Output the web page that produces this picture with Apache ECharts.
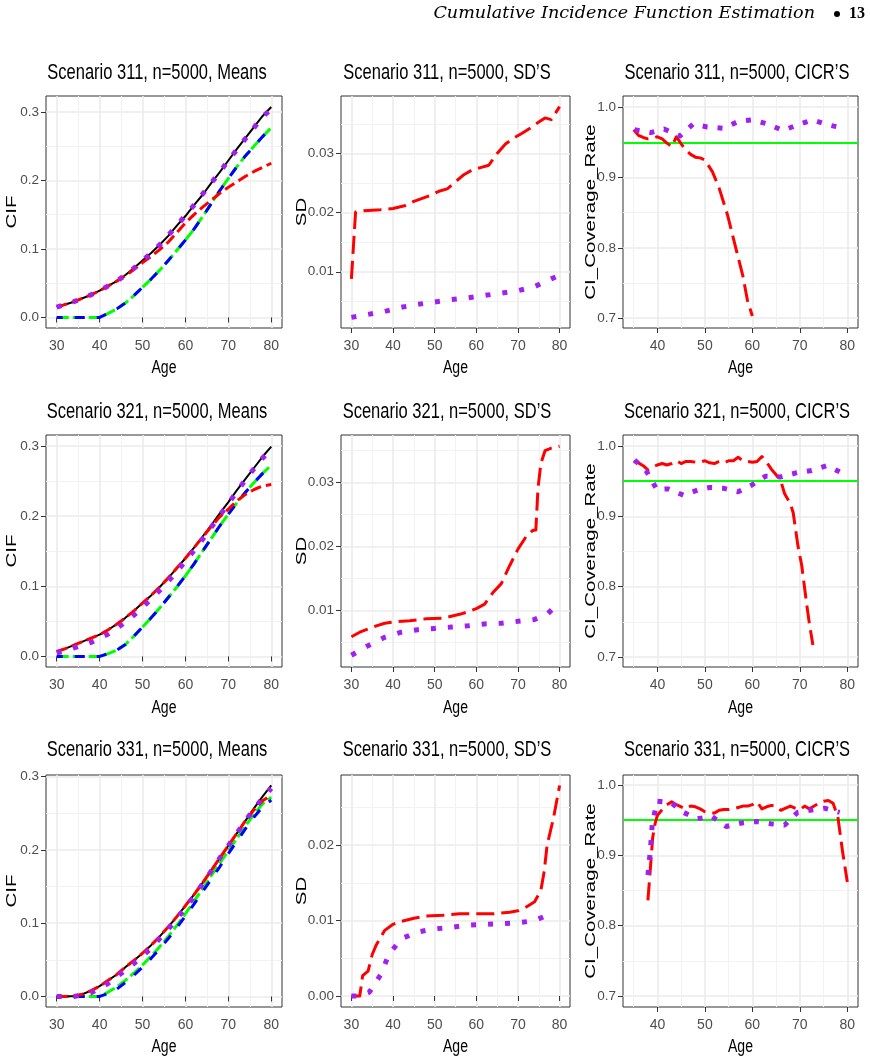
<!DOCTYPE html>
<html>
<head>
<meta charset="utf-8">
<script src="https://cdn.jsdelivr.net/npm/echarts@6/dist/echarts.min.js"></script>
<style>
  html, body { margin: 0; padding: 0; background: #fff; }
  #chart { width: 870px; height: 1064px; }
</style>
</head>
<body>
<div id="chart"></div>
<script>
// ---- data ----
const ageM = [30, 32, 34, 36, 38, 40, 42, 44, 46, 48, 50, 52, 54, 56, 58, 60, 62, 64, 66, 68, 70, 72, 74, 76, 78, 80]

const m311True = [0.015, 0.019, 0.023, 0.028, 0.033, 0.039, 0.046, 0.053, 0.062, 0.072, 0.083, 0.094, 0.106, 0.119, 0.134, 0.148, 0.164, 0.179, 0.196, 0.212, 0.229, 0.246, 0.262, 0.278, 0.294, 0.307]
const m311Purple = [0.015, 0.019, 0.023, 0.028, 0.033, 0.039, 0.046, 0.053, 0.062, 0.072, 0.083, 0.094, 0.106, 0.120, 0.134, 0.149, 0.164, 0.180, 0.196, 0.212, 0.229, 0.245, 0.261, 0.277, 0.293, 0.304]
const m311Red = [0.015, 0.019, 0.023, 0.028, 0.033, 0.039, 0.046, 0.053, 0.061, 0.070, 0.080, 0.089, 0.099, 0.110, 0.124, 0.138, 0.150, 0.161, 0.171, 0.181, 0.190, 0.198, 0.206, 0.213, 0.219, 0.225]
const m311Green = [0, 0, 0, 0, 0, 0, 0.006, 0.0125, 0.021, 0.032, 0.044, 0.056, 0.069, 0.083, 0.098, 0.113, 0.129, 0.147, 0.166, 0.185, 0.203, 0.220, 0.236, 0.250, 0.264, 0.277]
const m311Blue = [0, 0, 0, 0, 0, 0, 0.006, 0.0125, 0.021, 0.032, 0.044, 0.056, 0.069, 0.083, 0.098, 0.113, 0.129, 0.147, 0.166, 0.185, 0.203, 0.220, 0.236, 0.250, 0.264, 0.277]

const m321True = [0.007, 0.011, 0.016, 0.021, 0.026, 0.031, 0.038, 0.046, 0.055, 0.065, 0.076, 0.087, 0.099, 0.112, 0.126, 0.140, 0.155, 0.171, 0.187, 0.204, 0.220, 0.237, 0.253, 0.269, 0.285, 0.299]
const m321Purple = [0.005, 0.008, 0.012, 0.016, 0.020, 0.026, 0.032, 0.040, 0.049, 0.059, 0.070, 0.082, 0.094, 0.107, 0.121, 0.136, 0.151, 0.167, 0.184, 0.201, 0.218, 0.235, 0.252, 0.268, 0.283, 0.296]
const m321Red = [0.007, 0.011, 0.016, 0.021, 0.026, 0.031, 0.038, 0.046, 0.055, 0.065, 0.076, 0.087, 0.099, 0.112, 0.126, 0.140, 0.155, 0.170, 0.185, 0.199, 0.210, 0.222, 0.231, 0.238, 0.243, 0.245]
const m321Green = [0, 0, 0, 0, 0, 0, 0.004, 0.009, 0.017, 0.029, 0.042, 0.055, 0.069, 0.084, 0.099, 0.115, 0.132, 0.150, 0.168, 0.186, 0.203, 0.219, 0.234, 0.248, 0.261, 0.273]
const m321Blue = [0, 0, 0, 0, 0, 0, 0.004, 0.009, 0.017, 0.029, 0.042, 0.055, 0.069, 0.084, 0.099, 0.115, 0.132, 0.150, 0.168, 0.186, 0.203, 0.219, 0.234, 0.248, 0.261, 0.273]

const m331True = [0, 0, 0.0005, 0.003, 0.008, 0.014, 0.022, 0.030, 0.040, 0.049, 0.059, 0.070, 0.082, 0.095, 0.109, 0.124, 0.139, 0.155, 0.172, 0.189, 0.206, 0.223, 0.240, 0.257, 0.273, 0.288]
const m331Purple = [0, 0, 0, 0.002, 0.005, 0.011, 0.018, 0.027, 0.036, 0.045, 0.055, 0.066, 0.079, 0.092, 0.106, 0.121, 0.137, 0.154, 0.171, 0.189, 0.206, 0.223, 0.240, 0.256, 0.271, 0.284]
const m331Red = [0, 0, 0.0005, 0.003, 0.008, 0.014, 0.022, 0.030, 0.040, 0.049, 0.059, 0.070, 0.082, 0.095, 0.109, 0.124, 0.139, 0.155, 0.172, 0.189, 0.206, 0.223, 0.240, 0.255, 0.267, 0.275]
const m331Green = [0, 0, 0, 0, 0, 0, 0.006, 0.013, 0.022, 0.032, 0.043, 0.055, 0.068, 0.082, 0.097, 0.113, 0.130, 0.147, 0.165, 0.182, 0.199, 0.216, 0.233, 0.249, 0.263, 0.272]
const m331Blue = [0, 0, 0, 0, 0, 0, 0.004, 0.010, 0.019, 0.029, 0.040, 0.052, 0.065, 0.079, 0.094, 0.110, 0.126, 0.143, 0.160, 0.177, 0.195, 0.212, 0.229, 0.245, 0.259, 0.268]

const s311RedAge = [30, 31, 33, 35, 37, 40, 43, 45, 47, 49, 51, 53, 55, 57, 59, 61, 63, 65, 67, 69, 71, 73, 75, 76.5, 78, 80]
const s311Red = [0.0088, 0.0201, 0.0203, 0.0204, 0.0205, 0.0207, 0.0212, 0.0219, 0.0224, 0.0229, 0.0236, 0.0240, 0.0252, 0.0264, 0.0272, 0.0276, 0.0280, 0.0300, 0.0316, 0.0326, 0.0334, 0.0343, 0.0353, 0.0360, 0.0357, 0.0379]
const s311PurpleAge = [30, 34, 38, 42, 46, 50, 54, 58, 62, 66, 70, 74, 78, 80]
const s311Purple = [0.0023, 0.0028, 0.0033, 0.0040, 0.0045, 0.0049, 0.0053, 0.0056, 0.0060, 0.0064, 0.0068, 0.0075, 0.0088, 0.0094]

const s321RedAge = [30, 32, 34, 36, 38, 40, 44, 48, 52, 54, 56, 58, 60, 62, 64, 66, 68, 70, 72, 73.5, 74.3, 74.8, 75.5, 76.5, 78, 80]
const s321Red = [0.0059, 0.0066, 0.0071, 0.0076, 0.0080, 0.0082, 0.0084, 0.0087, 0.0088, 0.0091, 0.0094, 0.0098, 0.0103, 0.0110, 0.0128, 0.0142, 0.0170, 0.0196, 0.0216, 0.0225, 0.0226, 0.0290, 0.0330, 0.0350, 0.0354, 0.0357]
const s321PurpleAge = [30, 34, 38, 42, 46, 50, 54, 58, 62, 66, 70, 74, 77, 80]
const s321Purple = [0.0030, 0.0045, 0.0058, 0.0066, 0.0070, 0.0072, 0.0074, 0.0076, 0.0079, 0.0080, 0.0083, 0.0086, 0.0094, 0.0113]

const s331RedAge = [30, 32, 32.7, 34, 35, 36, 38, 40, 42, 45, 48, 52, 56, 60, 64, 68, 70, 72, 74, 75.5, 76.3, 77, 78.5, 80]
const s331Red = [0, 0, 0.0027, 0.0033, 0.0055, 0.0068, 0.0087, 0.0095, 0.0099, 0.0103, 0.0106, 0.0107, 0.0109, 0.0109, 0.0109, 0.0111, 0.0113, 0.0118, 0.0125, 0.0140, 0.0165, 0.0200, 0.0235, 0.0279]
const s331PurpleAge = [30, 32, 34.3, 37, 39, 42, 46, 50, 54, 58, 62, 66, 70, 74, 77, 78]
const s331Purple = [0, 0, 0.0005, 0.0028, 0.0055, 0.0076, 0.0085, 0.0089, 0.0091, 0.0094, 0.0095, 0.0096, 0.0097, 0.0100, 0.0107, 0.0109]

const c311RedAge = [35, 36, 37, 38, 39, 40, 41, 42, 43, 44, 45, 46, 47, 48, 49, 50, 51.6, 53, 54.8, 56.5, 58, 59, 60]
const c311Red = [0.968, 0.960, 0.957, 0.955, 0.956, 0.958, 0.955, 0.949, 0.944, 0.958, 0.948, 0.939, 0.933, 0.929, 0.928, 0.925, 0.908, 0.885, 0.846, 0.800, 0.760, 0.724, 0.703]
const c311PurpleAge = [35.2, 38.6, 41.4, 44.7, 47.5, 50.5, 53.8, 57.1, 60, 63.3, 66.4, 69.6, 72.75, 75.9, 78]
const c311Purple = [0.968, 0.964, 0.969, 0.959, 0.976, 0.972, 0.970, 0.980, 0.982, 0.976, 0.967, 0.975, 0.982, 0.975, 0.972]

const c321RedAge = [35, 36, 37, 38, 39, 40, 41, 42, 43, 44, 45, 46, 47, 48, 49, 50, 51, 52, 53, 54, 55, 56, 57, 58, 59, 60, 61, 62, 63, 64, 65, 66, 66.8, 68, 68.6, 69.6, 70.4, 71.4, 72, 72.75]
const c321Red = [0.978, 0.976, 0.972, 0.966, 0.970, 0.973, 0.975, 0.973, 0.975, 0.979, 0.975, 0.978, 0.978, 0.977, 0.977, 0.979, 0.976, 0.975, 0.978, 0.976, 0.979, 0.979, 0.984, 0.979, 0.978, 0.977, 0.978, 0.985, 0.977, 0.967, 0.959, 0.950, 0.932, 0.918, 0.905, 0.858, 0.830, 0.777, 0.748, 0.717]
const c321PurpleAge = [35.2, 37.7, 39.9, 42.2, 45.5, 48.75, 51, 53.8, 57, 60, 62.8, 66, 69.4, 72.5, 75.7, 79.1]
const c321Purple = [0.980, 0.964, 0.938, 0.939, 0.930, 0.938, 0.941, 0.940, 0.935, 0.945, 0.957, 0.956, 0.962, 0.965, 0.972, 0.961]

const c331RedAge = [38, 38.5, 39, 39.5, 40, 41, 42, 43, 44, 45, 46, 47, 48, 49, 50, 51, 52, 53, 54, 55, 56, 57, 58, 59, 60, 61, 62, 63, 64, 65, 66, 67, 68, 69, 70, 71, 72, 73, 74, 75, 76, 77, 78, 79, 80]
const c331Red = [0.836, 0.880, 0.925, 0.945, 0.957, 0.965, 0.972, 0.976, 0.972, 0.969, 0.966, 0.970, 0.969, 0.966, 0.962, 0.960, 0.960, 0.964, 0.965, 0.965, 0.966, 0.968, 0.970, 0.970, 0.972, 0.976, 0.966, 0.969, 0.971, 0.970, 0.964, 0.967, 0.970, 0.967, 0.965, 0.970, 0.966, 0.970, 0.974, 0.977, 0.978, 0.974, 0.955, 0.905, 0.862]
const c331PurpleAge = [38, 38.5, 38.9, 39.9, 42.8, 45.5, 48.3, 51.5, 54.5, 57.7, 61, 63.85, 66.8, 69.5, 72.1, 75.2, 78.4]
const c331Purple = [0.872, 0.906, 0.943, 0.977, 0.975, 0.961, 0.952, 0.955, 0.941, 0.946, 0.948, 0.945, 0.943, 0.961, 0.964, 0.967, 0.961]

const nominalRate = 0.95

// tick values
const ageTicks = [30, 40, 50, 60, 70, 80]
const ageTicksCicr = [40, 50, 60, 70, 80]
const ageMinor = [35, 45, 55, 65, 75]
const cifTicks = [0, 0.1, 0.2, 0.3]
const cifMinor = [0.05, 0.15, 0.25]
const sdTicks = [0.01, 0.02, 0.03]
const sdTicks331 = [0, 0.01, 0.02]
const sdMinor = [0.005, 0.015, 0.025, 0.035]
const cicrTicks = [0.7, 0.8, 0.9, 1.0]
const cicrMinor = [0.75, 0.85, 0.95]

const titles = [
  'Scenario 311, n=5000, Means', 'Scenario 311, n=5000, SD\u2019S', 'Scenario 311, n=5000, CICR\u2019S',
  'Scenario 321, n=5000, Means', 'Scenario 321, n=5000, SD\u2019S', 'Scenario 321, n=5000, CICR\u2019S',
  'Scenario 331, n=5000, Means', 'Scenario 331, n=5000, SD\u2019S', 'Scenario 331, n=5000, CICR\u2019S'
]

// ---- layout ----
const colLeft = [46, 341, 623]
const colWidth = [236, 229, 235]
const rowTop = [96, 435, 775]
const rowHeight = 232
const titleX = [157, 447, 737]
const titleY = [73, 412, 750]
const yNameX = [12, 302, 591]
const ageNameY = [368, 708, 1047]

const SANS = '"Liberation Sans", Arial, sans-serif'
const SERIF = '"DejaVu Serif", "Liberation Serif", serif'

const RED = '#ff0000'
const PURPLE = '#a020f0'
const GREEN = '#00ff00'
const BLUE = '#0000ff'

const chart = echarts.init(document.getElementById('chart'), null, { renderer: 'canvas' })

const grids = []
const xAxes = []
const yAxes = []
const series = []
const graphics = []

function zip(xs, ys) {
  return xs.map((x, k) => [x, ys[k]])
}

function fmt(d) {
  return v => Number(v).toFixed(d)
}

// the original figure is squeezed horizontally: horizontal texts get scaleX,
// rotated ones get scaleY (applied before the rotation)
function label(text, x, y, size, squeeze, rot) {
  return {
    type: 'text', x: x, y: y, rotation: rot || 0, silent: true,
    scaleX: rot ? 1 : squeeze, scaleY: rot ? squeeze : 1,
    style: { text: text, fill: '#000', font: size + 'px ' + SANS, align: 'center', verticalAlign: 'middle' }
  }
}

function addPanel(g, xr, yr, xMajor, yMajor, yMinor, yDigits) {
  const row = Math.floor(g / 3)
  const col = g % 3
  grids.push({
    left: colLeft[col], top: rowTop[row], width: colWidth[col], height: rowHeight,
    show: true, borderColor: '#333333', borderWidth: 1, backgroundColor: '#ffffff',
    containLabel: false, outerBoundsMode: 'none'
  })
  const minorLine = { show: true, lineStyle: { color: '#f2f2f2', width: 1 } }
  const majorLine = { show: true, lineStyle: { color: '#ebebeb', width: 1.6 } }
  xAxes.push({
    type: 'value', gridIndex: g, min: xr[0], max: xr[1], position: 'bottom',
    axisLine: { show: false },
    axisTick: { show: true, length: 5, customValues: xMajor, lineStyle: { color: '#333333', width: 1 } },
    axisLabel: { customValues: xMajor, color: '#4d4d4d', fontSize: 14, fontFamily: SANS, margin: 11, formatter: fmt(0) },
    splitLine: majorLine
  })
  xAxes.push({
    type: 'value', gridIndex: g, min: xr[0], max: xr[1], position: 'top',
    axisLine: { show: false },
    axisTick: { show: false, customValues: ageMinor },
    axisLabel: { show: false },
    splitLine: minorLine
  })
  yAxes.push({
    type: 'value', gridIndex: g, min: yr[0], max: yr[1], position: 'left',
    axisLine: { show: false },
    axisTick: { show: true, length: 5, customValues: yMajor, lineStyle: { color: '#333333', width: 1 } },
    axisLabel: { customValues: yMajor, color: '#4d4d4d', fontSize: 13.5, fontFamily: SANS, margin: 7, formatter: fmt(yDigits) },
    splitLine: majorLine
  })
  yAxes.push({
    type: 'value', gridIndex: g, min: yr[0], max: yr[1], position: 'right',
    axisLine: { show: false },
    axisTick: { show: false, customValues: yMinor },
    axisLabel: { show: false },
    splitLine: minorLine
  })
  graphics.push(label(titles[g], titleX[col], titleY[row], 22, 0.75))
  graphics.push(label('Age', colLeft[col] + colWidth[col] / 2, ageNameY[row], 18, 0.78))
  const yName = col === 0 ? 'CIF' : (col === 1 ? 'SD' : 'CI_Coverage_Rate')
  graphics.push(label(yName, yNameX[col], rowTop[row] + rowHeight / 2, 20.5, 0.75, Math.PI / 2))
}

function line(g, xs, ys, color, width, dash, z, extra) {
  return Object.assign({
    type: 'line', xAxisIndex: g * 2, yAxisIndex: g * 2,
    data: zip(xs, ys), showSymbol: false, symbol: 'none', silent: true, animation: false,
    lineStyle: { color: color, width: width, type: dash, cap: 'butt', join: 'round' }, z: z
  }, extra || {})
}

function meansPanel(g, yr, tru, purple, red, green, blue) {
  addPanel(g, [27.5, 82.5], yr, ageTicks, cifTicks, cifMinor, 1)
  series.push(line(g, ageM, green, GREEN, 3, [12, 4], 2))
  series.push(line(g, ageM, blue, BLUE, 3, [10, 12], 3, { lineStyle: { color: BLUE, width: 3, type: [10, 12], dashOffset: 4, cap: 'butt' } }))
  series.push(line(g, ageM, tru, '#000000', 2, 'solid', 4))
  series.push(line(g, ageM, red, RED, 3, [11, 5], 5))
  series.push(line(g, ageM, purple, PURPLE, 5, [5, 12], 6))
}

function sdPanel(g, yr, yMajor, redAge, red, purpleAge, purple) {
  addPanel(g, [27.5, 82.5], yr, ageTicks, yMajor, sdMinor, 2)
  series.push(line(g, redAge, red, RED, 3, [18, 7], 5))
  series.push(line(g, purpleAge, purple, PURPLE, 5, [5, 12], 6))
}

function cicrPanel(g, yr, redAge, red, purpleAge, purple) {
  addPanel(g, [32.75, 82.25], yr, ageTicksCicr, cicrTicks, cicrMinor, 1)
  series.push(line(g, redAge, red, RED, 3, [18, 7], 5, {
    markLine: {
      silent: true, symbol: 'none', animation: false, label: { show: false },
      lineStyle: { color: GREEN, width: 2, type: 'solid' },
      data: [{ yAxis: nominalRate }]
    }
  }))
  series.push(line(g, purpleAge, purple, PURPLE, 5, [5, 10], 6))
}

meansPanel(0, [-0.0154, 0.3231], m311True, m311Purple, m311Red, m311Green, m311Blue)
sdPanel(1, [0.0005, 0.0397], sdTicks, s311RedAge, s311Red, s311PurpleAge, s311Purple)
cicrPanel(2, [0.686, 1.016], c311RedAge, c311Red, c311PurpleAge, c311Purple)
meansPanel(3, [-0.0151, 0.3157], m321True, m321Purple, m321Red, m321Green, m321Blue)
sdPanel(4, [0.00116, 0.03745], sdTicks, s321RedAge, s321Red, s321PurpleAge, s321Purple)
cicrPanel(5, [0.6858, 1.0156], c321RedAge, c321Red, c321PurpleAge, c321Purple)
meansPanel(6, [-0.0144, 0.3023], m331True, m331Purple, m331Red, m331Green, m331Blue)
sdPanel(7, [-0.00146, 0.0293], sdTicks331, s331RedAge, s331Red, s331PurpleAge, s331Purple)
cicrPanel(8, [0.6843, 1.0142], c331RedAge, c331Red, c331PurpleAge, c331Purple)

// running page header
graphics.push({
  type: 'text', x: 815, y: 14, scaleX: 1.1, silent: true,
  style: { text: 'Cumulative Incidence Function Estimation', fill: '#000', font: 'italic 16px ' + SERIF, align: 'right', verticalAlign: 'middle' }
})
graphics.push({ type: 'circle', shape: { cx: 837, cy: 14, r: 3 }, style: { fill: '#000' }, silent: true })
graphics.push({
  type: 'text', x: 849, y: 14, silent: true,
  style: { text: '13', fill: '#000', font: 'bold 16px "Liberation Serif", serif', align: 'left', verticalAlign: 'middle' }
})

chart.setOption({
  animation: false,
  backgroundColor: '#ffffff',
  grid: grids,
  xAxis: xAxes,
  yAxis: yAxes,
  series: series,
  graphic: graphics
})
</script>
</body>
</html>
